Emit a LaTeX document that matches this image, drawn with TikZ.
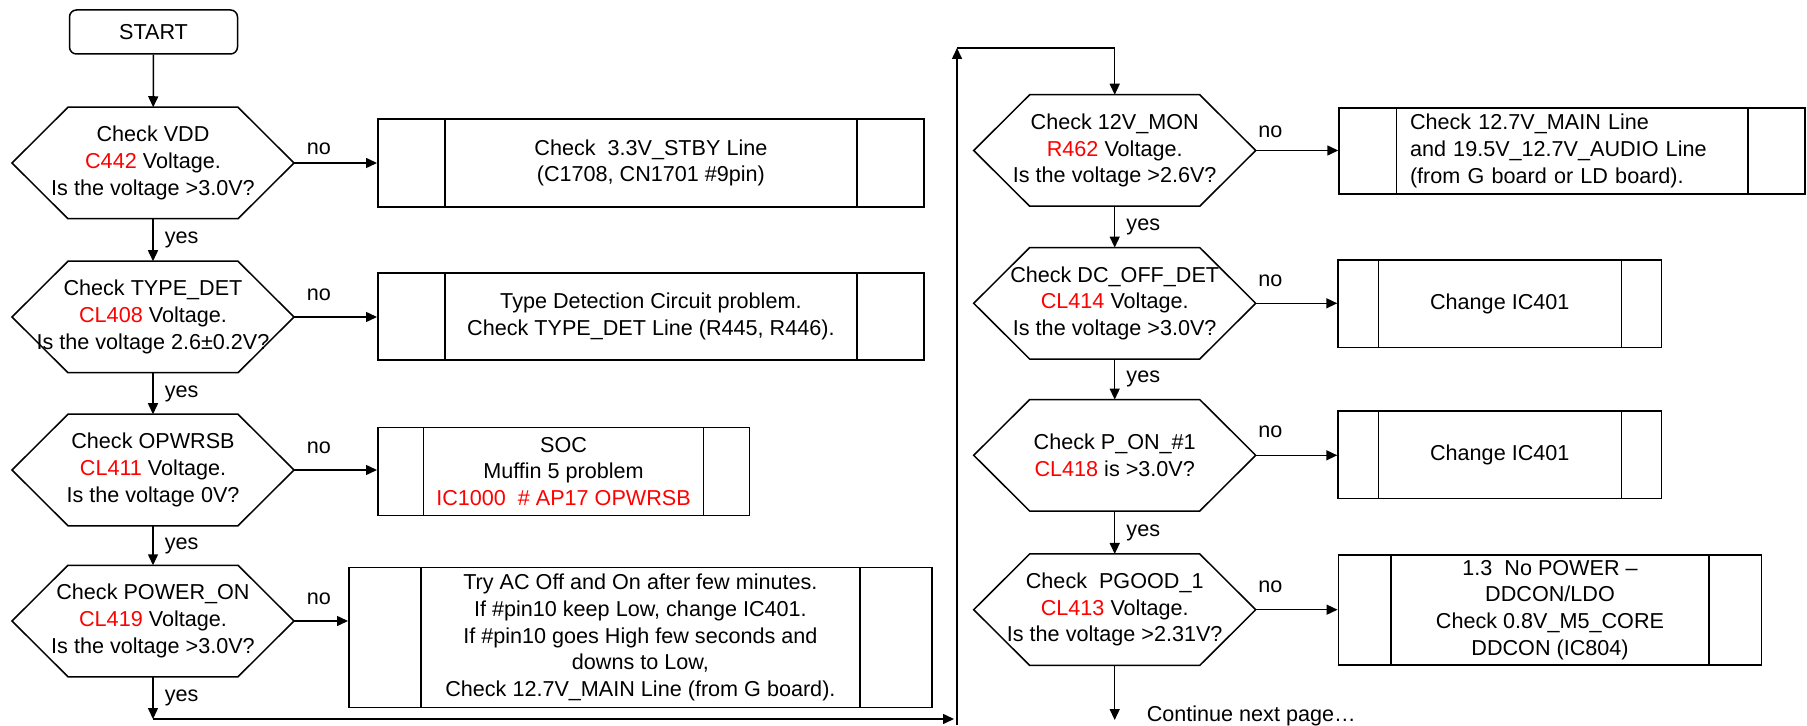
\documentclass[tikz,border=0pt]{standalone}
\usepackage{fontspec}
\setmainfont{Liberation Sans}
\usetikzlibrary{arrows.meta}
\newcommand{\redtxt}[1]{\textcolor{red}{#1}}

\begin{document}
\begin{tikzpicture}[
  x=0.5pt, y=-0.5pt, line width=0.75pt,
  >={Triangle[length=5.5pt,width=5pt]},
  font=\fontsize{10.8}{13.35}\selectfont,
  startbox/.style={draw, rounded corners=3.5pt, minimum width=84pt,
                   minimum height=22pt, inner sep=0pt},
  decision/.style={minimum width=140.25pt, minimum height=55pt,
                   inner sep=0pt, align=center},
  procbox/.style={draw, align=center, inner sep=0pt},
  lbl/.style={inner sep=1pt},
  yeslbl/.style={lbl, anchor=west, xshift=4.5pt},
  nolbl/.style={lbl, anchor=south west, pos=0},
]
\useasboundingbox (0,0) rectangle (1807,726);

\node[startbox] (start) at (153.5,32) {START};

% left column
\node[decision] (d1) at (153,163) {Check VDD\\\redtxt{C442} Voltage.\\Is the voltage >3.0V?};
\node[decision] (d2) at (153,317) {Check TYPE\_DET\\\redtxt{CL408} Voltage.\\Is the voltage 2.6±0.2V?};
\node[decision] (d3) at (153,470) {Check OPWRSB\\\redtxt{CL411} Voltage.\\Is the voltage 0V?};
\node[decision] (d4) at (153,621) {Check POWER\_ON\\\redtxt{CL419} Voltage.\\Is the voltage >3.0V?};

\node[procbox, minimum width=273.15pt, minimum height=44pt] (b1) at (650.9,163)
  {Check~ 3.3V\_STBY Line\\(C1708, CN1701 \#9pin)};
\node[procbox, minimum width=273.15pt, minimum height=43.5pt] (b2) at (650.9,316.5)
  {Type Detection Circuit problem.\\Check TYPE\_DET Line (R445, R446).};
\node[procbox, minimum width=185.75pt, minimum height=43.8pt] (b3) at (563.5,471.5)
  {SOC\\Muffin 5 problem\\\redtxt{IC1000~ \# AP17 OPWRSB}};
\node[procbox, minimum width=291.65pt, minimum height=69.8pt] (b4) at (640.4,637.5)
  {Try AC Off and On after few minutes.\\If \#pin10 keep Low, change IC401.\\If \#pin10 goes High few seconds and\\downs to Low,\\Check 12.7V\_MAIN Line (from G board).};

% right column
\node[decision] (d5) at (1114.7,150.5) {Check 12V\_MON\\\redtxt{R462} Voltage.\\Is the voltage >2.6V?};
\node[decision] (d6) at (1114.7,303.3) {Check DC\_OFF\_DET\\\redtxt{CL414} Voltage.\\Is the voltage >3.0V?};
\node[decision] (d7) at (1114.7,455.3) {Check P\_ON\_\#1\\\redtxt{CL418} is >3.0V?};
\node[decision] (d8) at (1114.7,609.7) {Check~ PGOOD\_1\\\redtxt{CL413} Voltage.\\Is the voltage >2.31V?};

\node[procbox, minimum width=233pt, minimum height=43.15pt, text width=162pt, align=left] (b5) at (1572,151)
  {Check 12.7V\_MAIN Line\\and 19.5V\_12.7V\_AUDIO Line\\(from G board or LD board).};
\node[procbox, minimum width=161.75pt, minimum height=43.65pt] (b6) at (1499.75,303.7) {Change IC401};
\node[procbox, minimum width=161.75pt, minimum height=43.65pt] (b7) at (1499.75,454.7) {Change IC401};
\node[procbox, minimum width=211.7pt, minimum height=55pt] (b8) at (1550,610)
  {1.3~ No POWER –\\DDCON/LDO\\Check 0.8V\_M5\_CORE\\DDCON (IC804)};

\node[lbl, anchor=west] (cont) at (1144,716) {Continue next page…};

% hexagon outlines
\foreach \i in {1,...,8}
  \draw (d\i.west) -- ([xshift=28pt]d\i.north west) -- ([xshift=-28pt]d\i.north east)
    -- (d\i.east) -- ([xshift=-28pt]d\i.south east) -- ([xshift=28pt]d\i.south west) -- cycle;

% double side lines of the boxes
\foreach \b/\o in {b1/34pt, b2/34pt, b3/23.25pt, b4/36.5pt, b5/29pt, b6/20.5pt, b7/20.5pt, b8/26.7pt}
  \draw ([xshift=\o]\b.north west) -- ([xshift=\o]\b.south west)
        ([xshift=-\o]\b.north east) -- ([xshift=-\o]\b.south east);

% yes path
\draw[->] (start) -- (d1);
\draw[->] (d1) -- node[yeslbl] {yes} (d2);
\draw[->] (d2) -- node[yeslbl] {yes} (d3);
\draw[->] (d3) -- node[yeslbl] {yes} (d4);

\coordinate (c1) at (153,719);
\coordinate (c2) at (957,719);
\coordinate (c3) at (957,48);
\draw[->] (d4.south) -- node[yeslbl] {yes} (c1);
\draw[->] (c1) -- ([xshift=-1.5pt]c2);
\draw[->] ([yshift=-3pt]c2) -- (c3);
\draw[->] (c3) -- (d5.north |- c3) -- (d5.north);

\draw[->] (d5) -- node[yeslbl] {yes} (d6);
\draw[->] (d6) -- node[yeslbl] {yes} (d7);
\draw[->] (d7) -- node[yeslbl] {yes} (d8);
\coordinate (c4) at (1114.7,720);
\draw[->] (d8.south) -- (c4);

% no branches
\draw[->] (d1.east) -- node[nolbl, xshift=5pt, yshift=3pt] {no} (d1.east -| b1.west);
\draw[->] (d2.east) -- node[nolbl, xshift=5pt, yshift=7pt] {no} (d2.east -| b2.west);
\draw[->] (d3.east) -- node[nolbl, xshift=5pt, yshift=7pt] {no} (d3.east -| b3.west);
\draw[->] (d4.east) -- node[nolbl, xshift=5pt, yshift=7pt] {no} (d4.east -| b4.west);
\draw[->] (d5.east) -- node[nolbl, yshift=5.25pt] {no} (d5.east -| b5.west);
\draw[->] (d6.east) -- node[nolbl, yshift=7pt] {no} (d6.east -| b6.west);
\draw[->] (d7.east) -- node[nolbl, yshift=7.5pt] {no} (d7.east -| b7.west);
\draw[->] (d8.east) -- node[nolbl, yshift=7pt] {no} (d8.east -| b8.west);
\end{tikzpicture}
\end{document}
